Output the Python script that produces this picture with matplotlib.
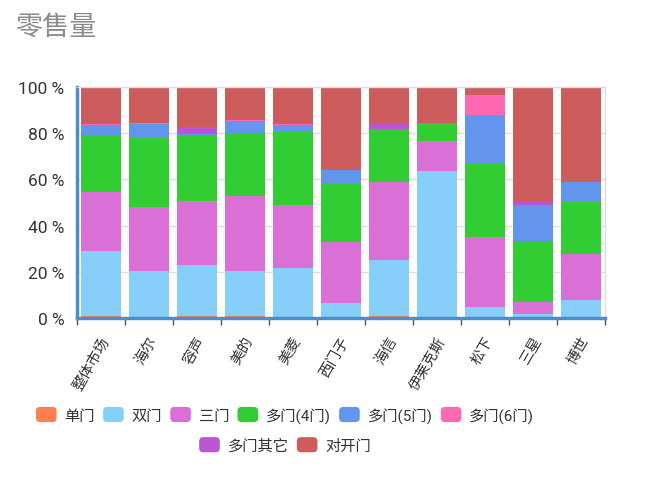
import numpy as np
import matplotlib
matplotlib.use('Agg')
import matplotlib.pyplot as plt
import matplotlib.transforms as mtransforms
from matplotlib.patches import Patch, FancyBboxPatch
from matplotlib.legend_handler import HandlerPatch

plt.rcParams['font.family'] = ['Roboto', 'Noto Sans CJK SC', 'DejaVu Sans']

brands = ['整体市场', '海尔', '容声', '美的', '美菱', '西门子', '海信', '伊莱克斯', '松下', '三星', '博世']
series_names = ['单门', '双门', '三门', '多门(4门)', '多门(5门)', '多门(6门)', '多门其它', '对开门']
colors = ['#ff7f50', '#87cefa', '#da70d6', '#32cd32', '#6495ed', '#ff69b4', '#ba55d3', '#cd5c5c']

single_door = [0.9, 0.4, 1.0, 0.9, 0.4, 0.2, 0.9, 0, 0, 0, 0]
double_door = [28.0, 19.9, 22.0, 19.4, 21.3, 6.1, 24.1, 63.5, 4.9, 1.6, 7.8]
triple_door = [25.8, 27.9, 27.8, 32.5, 27.1, 26.5, 33.7, 13.0, 30.1, 5.5, 19.8]
multi_4 = [24.7, 29.8, 28.6, 27.3, 31.8, 25.3, 23.2, 8.1, 32.3, 26.4, 22.5]
multi_5 = [4.1, 6.0, 0.3, 5.2, 2.9, 5.9, 0, 0, 20.6, 15.4, 8.6]
multi_6 = [0.3, 0.5, 0, 0.6, 0.5, 0, 0, 0, 8.8, 0, 0]
multi_other = [0.2, 0, 3.0, 0, 0, 0, 2.1, 0, 0, 1.2, 0]
side_by_side = [16.0, 15.5, 17.3, 14.1, 16.0, 36.0, 16.0, 15.4, 3.3, 49.9, 41.3]

series = [single_door, double_door, triple_door, multi_4, multi_5, multi_6, multi_other, side_by_side]


def round_patch(legend, orig_handle, xdescent, ydescent, width, height, fontsize):
    return FancyBboxPatch((-xdescent, -ydescent), width, height,
                          boxstyle='round,pad=0,rounding_size=3')


def main():
    fig = plt.figure(figsize=(6.5, 4.81), dpi=100)
    ax = fig.add_axes([77 / 650, 1 - 319 / 481, (605 - 77) / 650, (319 - 88) / 481])

    x = np.arange(len(brands))
    bottom = np.zeros(len(brands))
    for name, vals, c in zip(series_names, series, colors):
        vals = np.array(vals, dtype=float)
        ax.bar(x, vals, width=0.83, bottom=bottom, color=c, linewidth=0, label=name, zorder=2)
        bottom += vals

    ax.set_xlim(-0.5, len(brands) - 0.5)
    ax.set_ylim(0, 100)
    ax.set_yticks([0, 20, 40, 60, 80, 100])
    ax.set_yticklabels([f'{v} %' for v in [0, 20, 40, 60, 80, 100]], fontsize=12.5, color='#333333')
    ax.tick_params(axis='y', length=0, pad=9)
    ax.yaxis.grid(True, color='#dddddd', linewidth=1, zorder=0)

    ax.set_xticks(x)
    ax.set_xticks(np.arange(-0.5, len(brands)), minor=True)
    ax.tick_params(axis='x', which='major', length=0, pad=14)
    ax.tick_params(axis='x', which='minor', length=5, width=1, color='#555555')
    offset = mtransforms.ScaledTranslation(5 / 100, 0, fig.dpi_scale_trans)
    labels = ax.set_xticklabels(brands, rotation=60, ha='right', va='center',
                                rotation_mode='anchor', fontsize=10.5, color='#333333')
    for lab in labels:
        lab.set_transform(lab.get_transform() + offset)

    for side in ['left', 'bottom']:
        ax.spines[side].set_color('#4a8fc9')
        ax.spines[side].set_linewidth(2.5)
    for side in ['top', 'right']:
        ax.spines[side].set_color('#dddddd')
        ax.spines[side].set_linewidth(1)

    fig.text(15 / 650, 1 - 27 / 481, '零售量', fontsize=19.5, color='#8a8a8a',
             fontweight='medium', va='center', ha='left')

    handles = [Patch(facecolor=c, edgecolor='none') for c in colors]
    hmap = {h: HandlerPatch(patch_func=round_patch) for h in handles}
    common = dict(frameon=False, fontsize=11, handlelength=1.35, handleheight=1.15,
                  handletextpad=0.5, columnspacing=0.55, handler_map=hmap,
                  labelcolor='#333333', borderaxespad=0, borderpad=0)
    fig.legend(handles[:6], series_names[:6], ncol=6, loc='center',
               bbox_to_anchor=(285 / 650, 1 - 416 / 481), **common)
    fig.legend(handles[6:], series_names[6:], ncol=2, loc='center',
               bbox_to_anchor=(285 / 650, 1 - 446 / 481), **common)

    fig.savefig('out.png', dpi=100)


if __name__ == '__main__':
    main()
